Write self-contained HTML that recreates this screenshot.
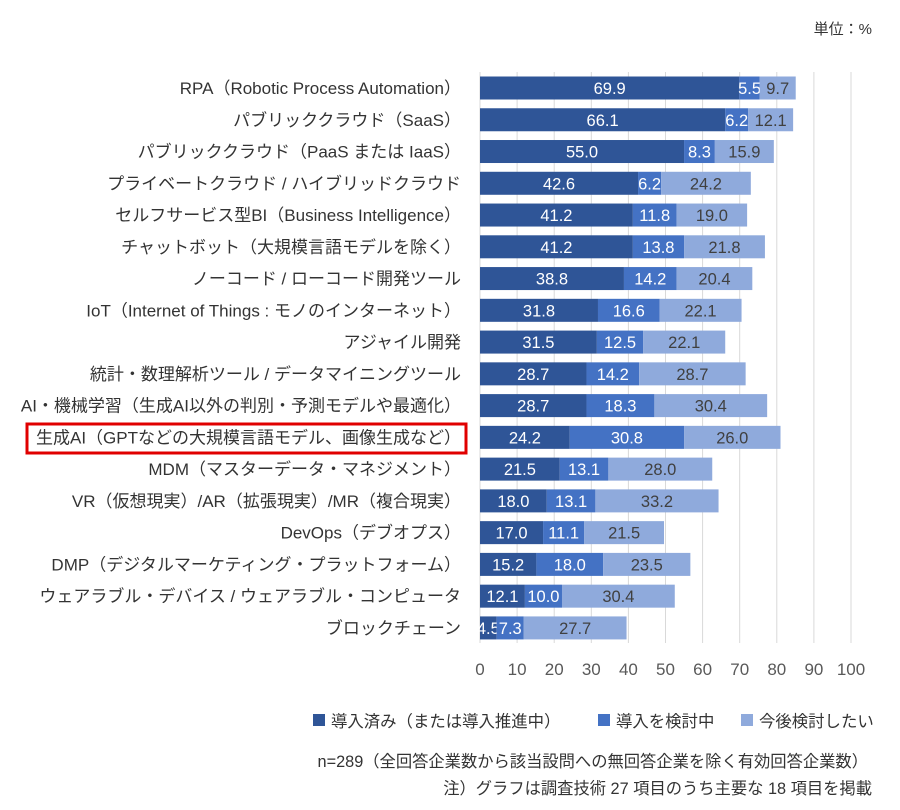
<!DOCTYPE html>
<html><head><meta charset="utf-8"><style>
body{margin:0;background:#fff;}
svg text{font-family:"Liberation Sans","Noto Sans CJK JP",sans-serif;}
</style></head><body>
<svg width="900" height="805" xmlns="http://www.w3.org/2000/svg">
<rect width="900" height="805" fill="#fff"/>
<text x="872" y="34" font-size="15" fill="#333" text-anchor="end">単位：%</text>
<g id="grid" stroke="#d9d9d9" stroke-width="1"></g>
<g id="bars"></g>
<rect x="27" y="424" width="439" height="29" fill="none" stroke="#e00000" stroke-width="3"/>
<g font-size="17" fill="#595959" text-anchor="middle" id="ticks"></g>
<g font-size="16.4" fill="#333">
<rect x="313" y="714" width="12" height="12" fill="#2f5597"/>
<text x="331" y="727">導入済み（または導入推進中）</text>
<rect x="598" y="714" width="12" height="12" fill="#4472c4"/>
<text x="616" y="727">導入を検討中</text>
<rect x="741" y="714" width="12" height="12" fill="#8faadc"/>
<text x="759" y="727">今後検討したい</text>
</g>
<text x="868" y="767" font-size="16.3" fill="#333" text-anchor="end">n=289（全回答企業数から該当設問への無回答企業を除く有効回答企業数）</text>
<text x="872" y="794" font-size="16.3" fill="#333" text-anchor="end">注）グラフは調査技術 27 項目のうち主要な 18 項目を掲載</text>
<script>
var d=[["RPA（Robotic Process Automation）",69.9,5.5,9.7],["パブリッククラウド（SaaS）",66.1,6.2,12.1],["パブリッククラウド（PaaS または IaaS）",55.0,8.3,15.9],["プライベートクラウド / ハイブリッドクラウド",42.6,6.2,24.2],["セルフサービス型BI（Business Intelligence）",41.2,11.8,19.0],["チャットボット（大規模言語モデルを除く）",41.2,13.8,21.8],["ノーコード / ローコード開発ツール",38.8,14.2,20.4],["IoT（Internet of Things : モノのインターネット）",31.8,16.6,22.1],["アジャイル開発",31.5,12.5,22.1],["統計・数理解析ツール / データマイニングツール",28.7,14.2,28.7],["AI・機械学習（生成AI以外の判別・予測モデルや最適化）",28.7,18.3,30.4],["生成AI（GPTなどの大規模言語モデル、画像生成など）",24.2,30.8,26.0],["MDM（マスターデータ・マネジメント）",21.5,13.1,28.0],["VR（仮想現実）/AR（拡張現実）/MR（複合現実）",18.0,13.1,33.2],["DevOps（デブオプス）",17.0,11.1,21.5],["DMP（デジタルマーケティング・プラットフォーム）",15.2,18.0,23.5],["ウェアラブル・デバイス / ウェアラブル・コンピュータ",12.1,10.0,30.4],["ブロックチェーン",4.5,7.3,27.7]];
var ns="http://www.w3.org/2000/svg",x0=480,k=3.71,y0=88,dy=31.76,h=23;
function el(p,t,a,txt){var e=document.createElementNS(ns,t);for(var i in a)e.setAttribute(i,a[i]);if(txt!=null)e.textContent=txt;p.appendChild(e);return e;}
var g=document.getElementById("grid"),b=document.getElementById("bars"),tk=document.getElementById("ticks");
for(var i=0;i<=10;i++){var x=x0+i*10*k;el(g,"line",{x1:x,x2:x,y1:72,y2:643});el(tk,"text",{x:x,y:675},i*10);}
var cols=["#2f5597","#4472c4","#8faadc"],tc=["#fff","#fff","#404040"];
d.forEach(function(r,j){var cy=y0+j*dy,x=x0;
var t=el(b,"text",{x:461,y:cy+6,"font-size":17,fill:"#333","text-anchor":"end"},r[0]);
var lw=t.getComputedTextLength();var maxw=(j==11)?425:440;
for(var s=0;s<3;s++){var w=r[s+1]*k;el(b,"rect",{x:x,y:cy-h/2,width:w,height:h,fill:cols[s]});
el(b,"text",{x:x+w/2,y:cy+6,"font-size":16.5,fill:tc[s],"text-anchor":"middle"},r[s+1].toFixed(1));x+=w;}
});
</script>
</svg>
</body></html>
